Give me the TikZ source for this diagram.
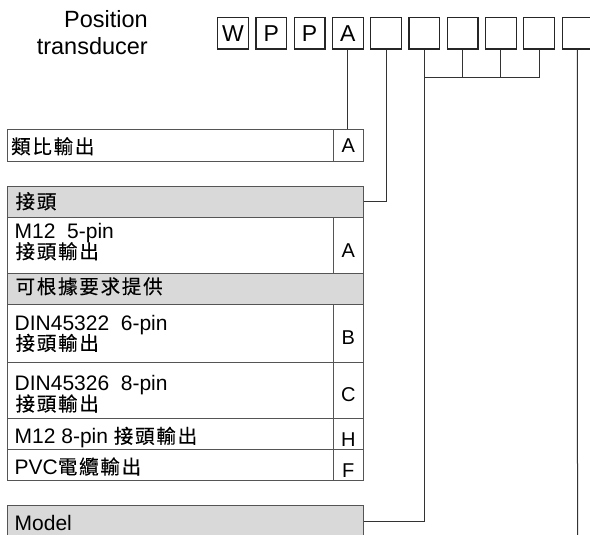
\documentclass[tikz,border=0pt]{standalone}
\usepackage{fontspec}
\setmainfont{Liberation Sans}
\newfontfamily\cjk[LetterSpace=9,FakeBold=0.3]{Noto Sans CJK TC}
\newcommand{\zh}[1]{{\fontsize{19.5}{21}\cjk #1}}
\newcommand{\tabfont}{\fontsize{21}{21}\selectfont}
\definecolor{linec}{HTML}{555555}
\definecolor{hdrfill}{HTML}{D9D9D9}
\begin{document}
\begin{tikzpicture}[x=1pt,y=-1pt,
  codebox/.style={draw=black!85, line width=1.2pt, minimum width=30.7pt, minimum height=31.7pt, inner sep=0, font=\fontsize{23}{23}\selectfont},
  lcell/.style={draw=linec, line width=1pt, minimum width=326pt, anchor=north west, inner sep=0},
  rcell/.style={draw=linec, line width=1pt, minimum width=30pt, anchor=north west, inner sep=0},
  hdr/.style={draw=linec, fill=hdrfill, line width=1pt, minimum width=356pt, anchor=north west, inner sep=0},
  txt/.style={anchor=base west, inner sep=0, font=\tabfont},
  letter/.style={anchor=base, inner sep=0, font=\fontsize{20}{20}\selectfont},
  conn/.style={draw=black!80, line width=1pt},
  title/.style={anchor=base east, inner sep=0, font=\fontsize{23.5}{24}\selectfont}]
\useasboundingbox (0,0) rectangle (590,535);

% title
\node[title] (t1) at (148,27.3) {Position};
\node[title] (t2) at (148,54.3) {transducer};

% code boxes
\foreach \i/\l in {1/W,2/P,3/P,4/A,5/{},6/{},7/{},8/{},9/{},10/{}}{
  \node[codebox] (b\i) at ({233.05+(\i-1)*38.27},33.15) {\l};
}

% table rows
\node[lcell, minimum height=31.5pt] (r1) at (7.3,129.3) {};
\node[rcell, minimum height=31.5pt] (r1b) at (333.3,129.3) {};
\node[hdr, minimum height=31pt] (h1) at (7.3,185.7) {};
\node[lcell, minimum height=56.6pt] (r2) at (7.3,216.7) {};
\node[rcell, minimum height=56.6pt] (r2b) at (333.3,216.7) {};
\node[hdr, minimum height=30.7pt] (h2) at (7.3,273.3) {};
\node[lcell, minimum height=57.7pt] (r3) at (7.3,304) {};
\node[rcell, minimum height=57.7pt] (r3b) at (333.3,304) {};
\node[lcell, minimum height=56pt] (r4) at (7.3,361.7) {};
\node[rcell, minimum height=56pt] (r4b) at (333.3,361.7) {};
\node[lcell, minimum height=31.3pt] (r5) at (7.3,417.7) {};
\node[rcell, minimum height=31.3pt] (r5b) at (333.3,417.7) {};
\node[lcell, minimum height=31pt] (r6) at (7.3,449) {};
\node[rcell, minimum height=31pt] (r6b) at (333.3,449) {};
\node[hdr, minimum height=32pt] (h3) at (7.3,505) {};

% texts
\node[txt] (x1) at (11,153.7) {\zh{類比輸出}};
\node[txt] (x2) at (15.4,208.7) {\zh{接頭}};
\node[txt] (x3a) at (14.5,238.3) {M12~~5-pin};
\node[txt] (x3b) at (15.4,258.7) {\zh{接頭輸出}};
\node[txt] (x4) at (15.4,293.7) {\zh{可根據要求提供}};
\node[txt] (x5a) at (14.5,330) {DIN45322~~6-pin};
\node[txt] (x5b) at (15.4,350.4) {\zh{接頭輸出}};
\node[txt] (x6a) at (14.5,390) {DIN45326~~8-pin};
\node[txt] (x6b) at (15.4,411) {\zh{接頭輸出}};
\node[txt] (x7) at (14.5,443.3) {M12 8-pin \zh{接頭輸出}};
\node[txt] (x8) at (14.5,474) {PVC\zh{電纜輸出}};
\node[txt] (x9) at (14.5,530) {Model};

% letters
\node[letter] (l1) at (348.3,153) {A};
\node[letter] (l2) at (348.3,257.8) {A};
\node[letter] (l3) at (348.3,344.3) {B};
\node[letter] (l4) at (348.3,401.3) {C};
\node[letter] (l5) at (348.3,446) {H};
\node[letter] (l6) at (348.3,477) {F};

% connectors
\coordinate (jn) at (0,78);
\coordinate (bot) at (577.5,545);
\draw[conn] (b4.south) -- (b4.south |- r1b.north);
\draw[conn] (b5.south) |- (h1.east);
\draw[conn] (b6.south) |- (h3.east);
\draw[conn] (b7.south) -- (b7.south |- jn);
\draw[conn] (b8.south) -- (b8.south |- jn);
\draw[conn] (b9.south) -- (b9.south |- jn);
\draw[conn] (b6.south |- jn) -- (b9.south |- jn);
\draw[conn] (b10.south) -- (bot);
\end{tikzpicture}
\end{document}
